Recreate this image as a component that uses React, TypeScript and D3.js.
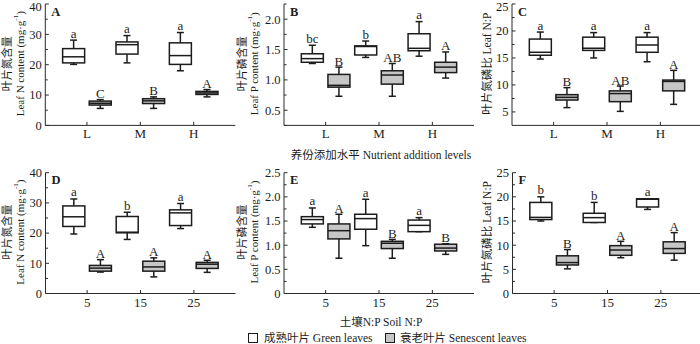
import React from "react";
import * as d3 from "d3";

const topLevels = ["L", "M", "H"];
const bottomLevels = ["5", "15", "25"];

// each box: [min, q1, median, q3, max]
const nGreenByLevel = [[20.1, 20.6, 22.6, 25.3, 28.1], [20.6, 23.5, 26.6, 27.5, 29.6], [18.0, 20.1, 23.0, 27.2, 30.6]];
const nSenescentByLevel = [[5.6, 6.7, 7.3, 8.0, 8.5], [5.6, 7.2, 8.1, 8.8, 9.4], [9.4, 10.2, 10.7, 11.2, 11.8]];
const pGreenByLevel = [[1.27, 1.29, 1.35, 1.43, 1.57], [1.37, 1.41, 1.55, 1.56, 1.64], [1.39, 1.48, 1.52, 1.76, 1.96]];
const pSenescentByLevel = [[0.73, 0.88, 0.91, 1.09, 1.21], [0.73, 0.93, 1.08, 1.15, 1.27], [1.03, 1.12, 1.21, 1.29, 1.46]];
const npGreenByLevel = [[14.8, 15.5, 16.05, 18.5, 19.8], [15.0, 16.4, 16.8, 18.85, 19.7], [14.3, 16.05, 17.4, 18.85, 19.7]];
const npSenescentByLevel = [[5.8, 7.2, 7.7, 8.2, 9.5], [5.1, 6.9, 8.4, 8.9, 9.8], [6.4, 8.9, 10.65, 10.9, 12.7]];
const nGreenBySoil = [[19.7, 22.2, 25.4, 29.0, 31.3], [17.9, 20.1, 20.3, 25.5, 26.9], [21.5, 22.5, 26.7, 27.7, 29.8]];
const nSenescentBySoil = [[7.1, 7.4, 8.4, 9.3, 11.2], [5.5, 7.4, 8.8, 10.7, 11.8], [7.0, 8.3, 9.7, 10.3, 11.0]];
const pGreenBySoil = [[1.37, 1.44, 1.53, 1.59, 1.77], [0.99, 1.33, 1.55, 1.64, 1.95], [1.28, 1.28, 1.41, 1.52, 1.57]];
const pSenescentBySoil = [[0.73, 1.13, 1.3, 1.44, 1.64], [0.73, 0.93, 1.04, 1.08, 1.12], [0.81, 0.88, 0.94, 1.02, 1.03]];
const npGreenBySoil = [[15.0, 15.3, 15.75, 18.85, 20.0], [14.7, 14.7, 15.7, 16.6, 18.85], [17.4, 17.9, 19.5, 19.6, 19.6]];
const npSenescentBySoil = [[5.1, 5.9, 6.4, 7.8, 9.1], [7.4, 7.9, 9.0, 9.9, 10.8], [6.9, 8.3, 9.3, 10.7, 12.6]];

const lettersGreen = [["a", "a", "a"], ["bc", "b", "a"], ["a", "a", "a"], ["a", "b", "a"], ["a", "a", "a"], ["b", "b", "a"]];
const lettersSenescent = [["C", "B", "A"], ["B", "AB", "A"], ["B", "AB", "A"], ["A", "A", "A"], ["A", "B", "B"], ["B", "A", "A"]];

const panelLetters = ["A", "B", "C", "D", "E", "F"];
const yTitlesCn = ["叶片氮含量", "叶片磷含量", "叶片氮磷比", "叶片氮含量", "叶片磷含量", "叶片氮磷比"];
const yTitlesEn = ["Leaf N content", "Leaf P content", "Leaf N:P", "Leaf N content", "Leaf P content", "Leaf N:P"];
const xTitleTop = "养份添加水平 Nutrient addition levels";
const xTitleBottom = "土壤N:P Soil N:P";
const legendLabels = ["成熟叶片 Green leaves", "衰老叶片 Senescent leaves"];

const SERIF = "'Liberation Serif', 'Times New Roman', 'Noto Sans CJK SC', serif";
const INK = "#1c1c1c";
const GRAY_FILL = "#c6c6c6";

type PanelDef = {
  left: number; top: number; bottom: number;
  domain: [number, number]; major: number[]; minor: number[]; fmt: (v: number) => string;
  green: number[][]; sen: number[][]; cats: string[];
  cnX: number; enX: number; twoLine: boolean; idx: number;
};

function Box({ x, w, vals, y, fill }: { x: number; w: number; vals: number[]; y: d3.ScaleLinear<number, number>; fill: string }) {
  const [mn, q1, md, q3, mx] = vals;
  const cap = 3.5;
  return (
    <g stroke={INK} strokeWidth={1.5} fill="none">
      <line x1={x} x2={x} y1={y(q3)} y2={y(mx)} />
      <line x1={x} x2={x} y1={y(q1)} y2={y(mn)} />
      <line x1={x - cap} x2={x + cap} y1={y(mx)} y2={y(mx)} />
      <line x1={x - cap} x2={x + cap} y1={y(mn)} y2={y(mn)} />
      <rect x={x - w / 2} y={y(q3)} width={w} height={Math.max(0.5, y(q1) - y(q3))} fill={fill} />
      <line x1={x - w / 2} x2={x + w / 2} y1={y(md)} y2={y(md)} />
    </g>
  );
}

function Panel({ p }: { p: PanelDef }) {
  const width = 190;
  const x = d3.scaleLinear().domain([0, 3.56]).range([p.left, p.left + width]);
  const y = d3.scaleLinear().domain(p.domain).range([p.bottom, p.top]);
  const catPos = p.cats.map((_, i) => x(i + 0.78));
  const off = 13.3;
  const bw = 22;
  const midY = (p.top + p.bottom) / 2 - 1;
  const axis = "#2a2a2a";
  return (
    <g fontFamily={SERIF} fill={INK}>
      <line x1={p.left} x2={p.left} y1={p.top} y2={p.bottom} stroke={axis} strokeWidth={1} />
      <line x1={p.left} x2={p.left + width} y1={p.bottom} y2={p.bottom} stroke={axis} strokeWidth={1} />
      {p.minor.map((v) => (
        <line key={"mi" + v} x1={p.left} x2={p.left + 2.5} y1={y(v)} y2={y(v)} stroke={axis} strokeWidth={1} />
      ))}
      {p.major.map((v) => (
        <g key={"ma" + v}>
          <line x1={p.left} x2={p.left + 3.5} y1={y(v)} y2={y(v)} stroke={axis} strokeWidth={1} />
          <text x={p.left - 3.5} y={Math.max(y(v), 7)} dy="0.35em" textAnchor="end" fontSize={12.5}>{p.fmt(v)}</text>
        </g>
      ))}
      {catPos.map((cx, i) => (
        <g key={"c" + i}>
          <line x1={cx} x2={cx} y1={p.bottom} y2={p.bottom - 3.5} stroke={axis} strokeWidth={1} />
          <text x={cx} y={p.bottom + 13} textAnchor="middle" fontSize={13}>{p.cats[i]}</text>
        </g>
      ))}
      {catPos.map((cx, i) => (
        <g key={"b" + i}>
          <Box x={cx - off} w={bw} vals={p.green[i]} y={y} fill="#ffffff" />
          <Box x={cx + off} w={bw} vals={p.sen[i]} y={y} fill={GRAY_FILL} />
          <text x={cx - off} y={y(p.green[i][4]) - 2.5} textAnchor="middle" fontSize={13}>{lettersGreen[p.idx][i]}</text>
          <text x={cx + off} y={y(p.sen[i][4]) - 1.5} textAnchor="middle" fontSize={13}>{lettersSenescent[p.idx][i]}</text>
        </g>
      ))}
      <text x={p.left + 6} y={p.top + 11.5} fontSize={12.5} fontWeight="bold">{panelLetters[p.idx]}</text>
      {p.twoLine ? (
        <>
          <text transform={`translate(${p.cnX},${midY}) rotate(-90)`} textAnchor="middle" dominantBaseline="central" fontSize={11}>{yTitlesCn[p.idx]}</text>
          <text transform={`translate(${p.enX},${midY}) rotate(-90)`} textAnchor="middle" dominantBaseline="central" fontSize={11}>
            {yTitlesEn[p.idx]} (mg·g<tspan fontSize={7} dy={-4}>-1</tspan><tspan dy={4}>)</tspan>
          </text>
        </>
      ) : (
        <text transform={`translate(${p.cnX},${midY}) rotate(-90)`} textAnchor="middle" dominantBaseline="central" fontSize={11.5}>
          {yTitlesCn[p.idx]} {yTitlesEn[p.idx]}
        </text>
      )}
    </g>
  );
}

export default function App() {
  const f1 = (v: number) => (v === 0 ? "0" : d3.format(".1f")(v));
  const f0 = (v: number) => String(v);
  const topT = 4, topB = 125.4, botT = 172.7, botB = 293.5;
  const panels: PanelDef[] = [
    { idx: 0, left: 45.3, top: topT, bottom: topB, domain: [0, 40], major: d3.range(0, 41, 10), minor: d3.range(5, 40, 10), fmt: f0, green: nGreenByLevel, sen: nSenescentByLevel, cats: topLevels, cnX: 6.5, enX: 19.5, twoLine: true },
    { idx: 1, left: 284, top: topT, bottom: topB, domain: [0.25, 2.25], major: [0.5, 1.0, 1.5, 2.0], minor: [0.25, 0.75, 1.25, 1.75, 2.25], fmt: f1, green: pGreenByLevel, sen: pSenescentByLevel, cats: topLevels, cnX: 242, enX: 254, twoLine: true },
    { idx: 2, left: 512, top: topT, bottom: topB, domain: [2.5, 25], major: [5, 10, 15, 20, 25], minor: [7.5, 12.5, 17.5, 22.5], fmt: f0, green: npGreenByLevel, sen: npSenescentByLevel, cats: topLevels, cnX: 487, enX: 487, twoLine: false },
    { idx: 3, left: 45.5, top: botT, bottom: botB, domain: [0, 40], major: d3.range(0, 41, 10), minor: d3.range(5, 40, 10), fmt: f0, green: nGreenBySoil, sen: nSenescentBySoil, cats: bottomLevels, cnX: 6.5, enX: 19.5, twoLine: true },
    { idx: 4, left: 284, top: botT, bottom: botB, domain: [0, 2.5], major: [0, 0.5, 1.0, 1.5, 2.0, 2.5], minor: [0.25, 0.75, 1.25, 1.75, 2.25], fmt: f1, green: pGreenBySoil, sen: pSenescentBySoil, cats: bottomLevels, cnX: 242, enX: 254, twoLine: true },
    { idx: 5, left: 512.5, top: botT, bottom: botB, domain: [0, 25], major: [0, 5, 10, 15, 20, 25], minor: [2.5, 7.5, 12.5, 17.5, 22.5], fmt: f0, green: npGreenBySoil, sen: npSenescentBySoil, cats: bottomLevels, cnX: 487, enX: 487, twoLine: false },
  ];
  return (
    <svg width={700} height={344} style={{ position: "absolute", left: 0, top: 0, background: "#fff" }}>
      <rect width={700} height={344} fill="#fff" />
      {panels.map((p) => <Panel key={p.idx} p={p} />)}
      <g fontFamily={SERIF} fill={INK}>
        <text x={381} y={158.5} textAnchor="middle" fontSize={11.5}>{xTitleTop}</text>
        <text x={381} y={325.5} textAnchor="middle" fontSize={11.5}>{xTitleBottom}</text>
        <rect x={248.5} y={333.5} width={9} height={9} fill="#fff" stroke={INK} strokeWidth={1} />
        <text x={264} y={342} fontSize={11.5}>{legendLabels[0]}</text>
        <rect x={385.5} y={333.5} width={9} height={9} fill={GRAY_FILL} stroke={INK} strokeWidth={1} />
        <text x={400} y={342} fontSize={11.5}>{legendLabels[1]}</text>
      </g>
    </svg>
  );
}
